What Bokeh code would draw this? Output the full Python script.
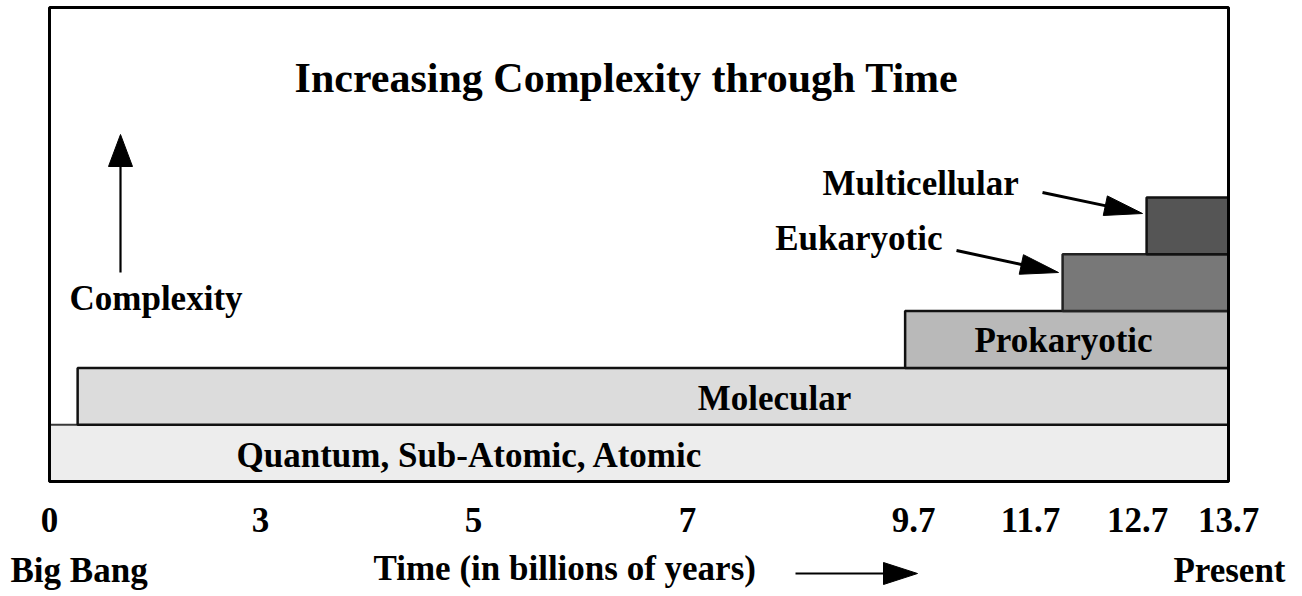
import numpy as np
from bokeh.plotting import figure
from bokeh.models import Range1d, Label, ColumnDataSource
from bokeh.core.properties import value
from bokeh.embed import file_html
from bokeh.resources import INLINE

# ---------------- data ----------------
stages = ["Quantum, Sub-Atomic, Atomic", "Molecular", "Prokaryotic", "Eukaryotic", "Multicellular"]
stage_start = [0.0, 0.4, 9.6, 12.0, 12.8]      # billions of years after the Big Bang
stage_level = [0, 1, 2, 3, 4]                  # complexity level
present = 13.7
tick_values = [0, 3, 5, 7, 9.7, 11.7, 12.7, 13.7]
tick_labels = ["0", "3", "5", "7", "9.7", "11.7", "12.7", "13.7"]

# ---------------- layout / style ----------------
tick_pos = [0, 211, 424, 638, 864, 981, 1088, 1179]   # schematic (non-linear) axis positions
W, H = 1302, 596
X0, Y0 = 49, 481          # canvas pixel of (time 0, level 0)
LEVEL_PX = 56.8
BASE_FIX = 0.34           # em shift so that labels sit on their baseline
FONT = "Liberation Serif"
fills = ["#ededed", "#dcdcdc", "#b9b9b9", "#787878", "#555555"]
lines = ["#3a3a3a", "#111111", "#111111", "#222222", "#111111"]
lwidths = [2, 2.5, 2.5, 2.5, 2.5]


def tpos(t):
    return np.interp(t, tick_values, tick_pos)


# canvas-pixel helpers for annotation placement
def rx(px):
    return px - X0


def ry(py, size=0):
    return (Y0 - (py - BASE_FIX * size)) / LEVEL_PX


src = ColumnDataSource(dict(
    left=tpos(np.array(stage_start)),
    right=tpos(np.full(len(stages), present)),
    bottom=np.array(stage_level, dtype=float),
    top=np.array(stage_level, dtype=float) + 1,
    fill=fills, line=lines, lw=lwidths,
))

p = figure(width=W, height=H, min_border=0,
           x_range=Range1d(rx(0), rx(W)), y_range=Range1d(ry(H), ry(0)),
           x_axis_location=None, y_axis_location=None,
           toolbar_location=None, output_backend="svg")
p.grid.visible = False
p.outline_line_color = None
p.background_fill_color = "white"
p.border_fill_color = "white"

# stage bars
p.quad(left="left", right="right", bottom="bottom", top="top", source=src,
       fill_color="fill", line_color="line", line_width="lw")

# outer box of the chart area (time 0 .. present)
p.quad(left=[tpos(0)], right=[tpos(present)], bottom=[0], top=[ry(7)],
       fill_color=None, line_color="black", line_width=3)

# time tick labels
tick_src = ColumnDataSource(dict(x=tpos(tick_values), y=np.full(len(tick_values), ry(531, 35)),
                                 text=tick_labels))
p.text(x="x", y="y", text="text", source=tick_src, text_font=value(FONT),
       text_font_size="35px", text_font_style="bold", text_color="black",
       text_align="center", text_baseline="alphabetic")


def lab(text, x, ybase, size=35, align="left"):
    p.add_layout(Label(x=x, y=ry(ybase, size), text=text, text_font=FONT,
                       text_font_size=f"{size}px", text_font_style="bold",
                       text_color="black", text_align=align, text_baseline="alphabetic"))


lab("Increasing Complexity through Time", rx(626), 92, size=42, align="center")
lab("Complexity", rx(69), 310)
lab("Multicellular", rx(822), 195)
lab("Eukaryotic", rx(942), 250, align="right")
lab(stages[2], rx(1063), 352, align="center")
lab(stages[1], rx(774), 410, align="center")
lab(stages[0], rx(236), 467)
lab("Big Bang", rx(10), 582)
lab("Time (in billions of years)", rx(373), 580)
lab("Present", rx(1285), 582, align="right")


# arrows: shaft + slender triangular head (geometry in canvas pixels)
def arrow(x0, y0, x1, y1, head_len, head_w, lw):
    d = np.array([x1 - x0, y1 - y0], dtype=float)
    d /= np.hypot(*d)
    n = np.array([-d[1], d[0]])
    base = np.array([x1, y1]) - d * head_len
    c1 = base + n * head_w / 2
    c2 = base - n * head_w / 2
    p.segment(x0=[rx(x0)], y0=[ry(y0)], x1=[rx(base[0] + d[0] * 2)], y1=[ry(base[1] + d[1] * 2)],
              line_color="black", line_width=lw)
    p.patch(x=[rx(x1), rx(c1[0]), rx(c2[0])], y=[ry(y1), ry(c1[1]), ry(c2[1])],
            fill_color="black", line_color="black", line_width=1)


arrow(120, 272, 120, 134, 32, 24, 2.2)
arrow(1042, 192, 1142, 213, 38, 20, 3)
arrow(956, 250, 1058, 272, 38, 20, 3)
arrow(795, 573, 917, 573, 34, 22, 2)

open("out.html", "w").write(file_html(p, INLINE))
